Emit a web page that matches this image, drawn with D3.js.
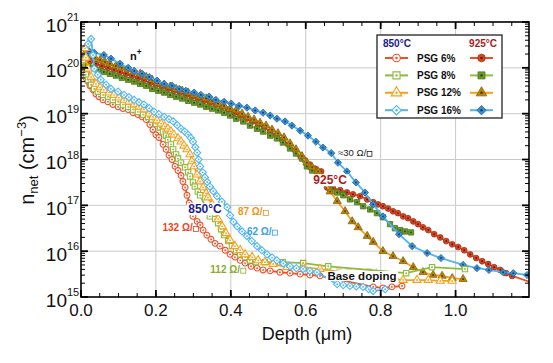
<!DOCTYPE html>
<html>
<head>
<meta charset="utf-8">
<script src="https://cdn.jsdelivr.net/npm/d3@7"></script>
<style>
body{margin:0;background:#fff}
svg{font-family:"Liberation Sans",Arial,sans-serif}
</style>
</head>
<body>
<div id="chart-area"></div>
<script>
// values: [depth (um), log10(n_net / cm^-3)]

// 850 C, open markers
var psg6_850 = [[0.005,20.13],[0.008,19.91],[0.013,19.78],[0.019,19.70],[0.024,19.61],[0.032,19.52],[0.040,19.43],[0.048,19.37],[0.059,19.30],[0.072,19.26],[0.085,19.20],[0.099,19.15],[0.112,19.11],[0.126,19.09],[0.139,19.02],[0.152,18.98],[0.163,18.93],[0.174,18.87],[0.184,18.76],[0.192,18.65],[0.200,18.54],[0.208,18.48],[0.219,18.33],[0.227,18.22],[0.235,18.09],[0.243,18.00],[0.251,17.85],[0.259,17.76],[0.267,17.65],[0.272,17.52],[0.278,17.39],[0.283,17.22],[0.289,17.05],[0.294,16.90],[0.299,16.76],[0.310,16.65],[0.318,16.57],[0.326,16.46],[0.336,16.35],[0.347,16.26],[0.358,16.17],[0.371,16.11],[0.385,16.02],[0.398,15.93],[0.411,15.87],[0.425,15.80],[0.438,15.74],[0.454,15.67],[0.470,15.63],[0.486,15.59],[0.505,15.57],[0.531,15.54],[0.558,15.52],[0.585,15.50],[0.611,15.48],[0.638,15.46],[0.780,15.22],[0.806,15.20],[0.830,15.22],[0.857,15.24]]
var psg8_850 = [[0.005,20.17],[0.013,19.85],[0.019,19.74],[0.027,19.63],[0.035,19.54],[0.045,19.48],[0.059,19.41],[0.072,19.37],[0.085,19.30],[0.099,19.26],[0.112,19.20],[0.126,19.15],[0.139,19.09],[0.152,19.04],[0.166,18.98],[0.179,18.93],[0.190,18.87],[0.200,18.78],[0.211,18.70],[0.219,18.61],[0.227,18.52],[0.232,18.43],[0.240,18.33],[0.246,18.22],[0.254,18.11],[0.259,18.02],[0.267,17.93],[0.278,17.83],[0.286,17.72],[0.291,17.63],[0.299,17.50],[0.304,17.41],[0.312,17.30],[0.318,17.22],[0.344,16.76],[0.358,16.70],[0.366,16.61],[0.374,16.48],[0.382,16.35],[0.393,16.22],[0.403,16.11],[0.414,16.02],[0.425,15.93],[0.438,15.87],[0.451,15.80],[0.467,15.76],[0.491,15.76],[0.539,15.76],[0.593,15.74],[0.660,15.67],[0.868,15.52],[0.937,15.65],[1.025,15.61]]
var psg12_850 = [[0.011,20.43],[0.013,20.22],[0.019,19.98],[0.027,19.80],[0.040,19.65],[0.051,19.57],[0.061,19.52],[0.075,19.46],[0.088,19.41],[0.101,19.35],[0.115,19.30],[0.128,19.26],[0.142,19.20],[0.155,19.15],[0.168,19.09],[0.182,19.00],[0.192,18.93],[0.203,18.85],[0.214,18.78],[0.224,18.72],[0.232,18.67],[0.240,18.61],[0.248,18.54],[0.259,18.46],[0.267,18.39],[0.275,18.30],[0.283,18.22],[0.291,18.11],[0.296,17.96],[0.302,17.85],[0.310,17.67],[0.318,17.52],[0.326,17.39],[0.334,17.26],[0.339,17.17],[0.350,17.02],[0.358,16.85],[0.366,16.70],[0.377,16.54],[0.387,16.39],[0.398,16.24],[0.411,16.11],[0.425,16.02],[0.438,15.93],[0.457,15.87],[0.473,15.80],[0.491,15.76],[0.513,15.72],[0.550,15.65],[0.593,15.65],[0.638,15.61],[0.860,15.37],[0.897,15.37],[0.927,15.37],[0.959,15.35],[0.991,15.35]]
var psg16_850 = [[0.019,20.52],[0.027,20.63],[0.032,20.28],[0.035,19.98],[0.045,19.85],[0.053,19.74],[0.067,19.63],[0.080,19.54],[0.099,19.48],[0.115,19.41],[0.128,19.36],[0.142,19.30],[0.155,19.25],[0.168,19.20],[0.182,19.12],[0.195,19.04],[0.208,18.99],[0.222,18.93],[0.235,18.88],[0.246,18.83],[0.257,18.75],[0.267,18.67],[0.277,18.61],[0.286,18.54],[0.293,18.47],[0.299,18.39],[0.305,18.27],[0.310,18.15],[0.314,18.00],[0.318,17.85],[0.325,17.72],[0.331,17.61],[0.337,17.51],[0.344,17.41],[0.353,17.31],[0.363,17.20],[0.376,17.08],[0.390,16.96],[0.398,16.78],[0.407,16.64],[0.417,16.54],[0.430,16.43],[0.443,16.33],[0.456,16.22],[0.470,16.11],[0.483,16.02],[0.497,15.93],[0.510,15.86],[0.523,15.80],[0.540,15.73],[0.558,15.67],[0.575,15.63],[0.593,15.61],[0.611,15.57],[0.630,15.54],[0.684,15.28],[0.700,15.26],[0.718,15.24],[0.735,15.23],[0.753,15.22],[0.768,15.17],[0.780,15.13],[0.812,15.17]]

// 925 C, filled markers
var psg6_925 = [[0.008,20.22],[0.024,20.15],[0.040,20.09],[0.056,20.04],[0.072,20.00],[0.088,19.96],[0.104,19.91],[0.120,19.87],[0.136,19.83],[0.152,19.78],[0.168,19.74],[0.184,19.67],[0.200,19.63],[0.216,19.59],[0.232,19.54],[0.248,19.50],[0.264,19.46],[0.280,19.41],[0.296,19.37],[0.312,19.33],[0.328,19.28],[0.344,19.24],[0.360,19.20],[0.377,19.15],[0.393,19.09],[0.409,19.02],[0.425,18.96],[0.441,18.89],[0.457,18.83],[0.473,18.76],[0.489,18.70],[0.505,18.61],[0.521,18.52],[0.537,18.43],[0.553,18.33],[0.569,18.22],[0.585,18.09],[0.598,17.98],[0.611,17.89],[0.625,17.80],[0.641,17.74],[0.657,17.39],[0.673,17.37],[0.692,17.33],[0.710,17.28],[0.726,17.24],[0.745,17.20],[0.764,17.13],[0.780,17.07],[0.793,17.02],[0.806,16.98],[0.820,16.93],[0.833,16.87],[0.846,16.83],[0.860,16.76],[0.873,16.72],[0.887,16.65],[0.900,16.59],[0.913,16.52],[0.927,16.46],[0.943,16.37],[0.959,16.30],[0.975,16.22],[0.991,16.15],[1.007,16.09],[1.023,16.02],[1.039,15.93],[1.055,15.85],[1.071,15.78],[1.087,15.72],[1.103,15.65],[1.119,15.59],[1.135,15.52],[1.151,15.46],[1.205,15.31]]
var psg8_925 = [[0.008,20.09],[0.019,20.04],[0.032,20.00],[0.045,19.96],[0.061,19.91],[0.077,19.87],[0.093,19.83],[0.109,19.78],[0.126,19.74],[0.142,19.70],[0.158,19.65],[0.174,19.61],[0.190,19.54],[0.206,19.50],[0.222,19.46],[0.238,19.41],[0.254,19.37],[0.270,19.33],[0.286,19.28],[0.302,19.24],[0.318,19.20],[0.334,19.15],[0.350,19.11],[0.366,19.07],[0.382,19.02],[0.398,18.96],[0.414,18.89],[0.433,18.83],[0.451,18.74],[0.470,18.67],[0.486,18.61],[0.505,18.52],[0.523,18.46],[0.539,18.37],[0.558,18.24],[0.574,18.13],[0.590,18.02],[0.603,17.85],[0.617,17.76],[0.665,17.35],[0.684,17.28],[0.700,17.22],[0.718,17.13],[0.737,17.07],[0.753,16.98],[0.772,16.91],[0.790,16.83],[0.806,16.74],[0.825,16.59],[0.838,16.50],[0.852,16.46],[0.865,16.43],[0.881,16.41]]
var psg12_925 = [[0.013,20.35],[0.024,20.28],[0.037,20.22],[0.051,20.17],[0.064,20.13],[0.077,20.09],[0.093,20.04],[0.109,20.00],[0.126,19.96],[0.142,19.91],[0.158,19.87],[0.174,19.80],[0.190,19.74],[0.206,19.67],[0.222,19.63],[0.238,19.59],[0.254,19.54],[0.270,19.50],[0.286,19.46],[0.302,19.41],[0.318,19.37],[0.334,19.33],[0.350,19.28],[0.366,19.22],[0.382,19.17],[0.398,19.11],[0.414,19.07],[0.430,19.00],[0.446,18.93],[0.462,18.87],[0.478,18.80],[0.494,18.74],[0.510,18.65],[0.526,18.57],[0.542,18.48],[0.558,18.35],[0.574,18.22],[0.590,18.07],[0.603,17.93],[0.617,17.83],[0.633,17.74],[0.665,17.30],[0.684,17.09],[0.705,16.87],[0.724,16.65],[0.740,16.52],[0.764,16.33],[0.780,16.20],[0.806,16.00],[0.833,15.89],[0.860,15.78],[0.887,15.65],[0.913,15.54],[0.940,15.48],[0.964,15.46],[0.991,15.41],[1.020,15.39]]
var psg16_925 = [[0.012,20.28],[0.022,20.36],[0.035,20.33],[0.061,20.28],[0.080,20.20],[0.104,20.09],[0.126,20.00],[0.142,19.93],[0.163,19.87],[0.182,19.80],[0.203,19.72],[0.222,19.65],[0.243,19.61],[0.262,19.54],[0.280,19.50],[0.302,19.46],[0.320,19.41],[0.342,19.37],[0.360,19.30],[0.382,19.26],[0.401,19.22],[0.422,19.17],[0.443,19.13],[0.465,19.07],[0.486,19.02],[0.505,18.96],[0.523,18.89],[0.545,18.83],[0.563,18.74],[0.585,18.63],[0.606,18.52],[0.627,18.39],[0.646,18.26],[0.668,18.14],[0.686,17.93],[0.710,17.74],[0.734,17.50],[0.758,17.28],[0.780,17.02],[0.806,16.76],[0.849,16.37],[0.884,16.11],[0.924,15.96],[0.961,15.85],[1.020,15.70],[1.057,15.63],[1.089,15.59],[1.127,15.54],[1.154,15.52],[1.191,15.48]]

var pctLabels = ['PSG 6%', 'PSG 8%', 'PSG 12%', 'PSG 16%']
var xTicks = [0, 0.2, 0.4, 0.6, 0.8, 1.0]
var yDecades = [15, 16, 17, 18, 19, 20, 21]

var margin = {left:81, right:24, top:22, bottom:66}
var width = 553 - margin.left - margin.right
var height = 363 - margin.top - margin.bottom

var svg = d3.select('#chart-area').append('svg')
	.attr('width', 553).attr('height', 363)

var g = svg.append('g')
	.attr('transform', 'translate(' + margin.left + ',' + margin.top + ')')

var x = d3.scaleLinear().domain([0, 1.196]).range([0, width])
var y = d3.scaleLog().domain([1e15, 1e21]).range([height, 0])

svg.append('defs').append('clipPath').attr('id', 'clip')
	.append('rect').attr('width', width).attr('height', height)

// grid
g.selectAll('.gx').data(xTicks.slice(1)).enter().append('line')
	.attr('x1', d => x(d)).attr('x2', d => x(d)).attr('y1', 0).attr('y2', height)
	.attr('stroke', '#c9c9c9').attr('stroke-width', 1)
g.selectAll('.gy').data(yDecades.slice(1, -1)).enter().append('line')
	.attr('x1', 0).attr('x2', width).attr('y1', d => y(Math.pow(10, d))).attr('y2', d => y(Math.pow(10, d)))
	.attr('stroke', '#c9c9c9').attr('stroke-width', 1)

// base doping level
g.append('line')
	.attr('x1', x(0.68)).attr('x2', x(0.79))
	.attr('y1', y(Math.pow(10, 15.61))).attr('y2', y(Math.pow(10, 15.61)))
	.attr('stroke', '#d8cfae').attr('stroke-width', 1.5).attr('stroke-dasharray', '6,4')

var series = [
	{data:psg6_925, shape:'circle', line:'#f04e23', fill:'#d6461f', stroke:'#a8331a', dot:'#5a1808'},
	{data:psg8_925, shape:'square', line:'#8dc03c', fill:'#6b9a2c', stroke:'#4e751e', dot:'#2c4410'},
	{data:psg12_925, shape:'triangle', line:'#f5a11c', fill:'#b8860f', stroke:'#8a6308', dot:'#4a3404'},
	{data:psg16_925, shape:'diamond', line:'#4db6f3', fill:'#3b8fd2', stroke:'#2369a8', dot:'#123c66'},
	{data:psg6_850, shape:'circle', line:'#f04e23', open:true},
	{data:psg8_850, shape:'square', line:'#8dbb3c', open:true},
	{data:psg12_850, shape:'triangle', line:'#f5a11c', open:true},
	{data:psg16_850, shape:'diamond', line:'#4db6f3', open:true}
]

function symbolPath(shape, s) {
	if (shape == 'circle') return d3.symbol(d3.symbolCircle, Math.PI * s * s)()
	if (shape == 'square') return d3.symbol(d3.symbolSquare, Math.pow(1.85 * s, 2))()
	if (shape == 'triangle') return d3.symbol(d3.symbolTriangle, 3.4 * s * s)()
	return d3.symbol(d3.symbolSquare, Math.pow(1.75 * s, 2))()
}

function drawMarker(sel, sr, s) {
	sel.append('path')
		.attr('d', symbolPath(sr.shape, s))
		.attr('transform', sr.shape == 'diamond' ? 'rotate(45)' : null)
		.attr('fill', sr.open ? '#fff' : sr.fill)
		.attr('stroke', sr.open ? sr.line : sr.stroke)
		.attr('stroke-width', sr.open ? 1.1 : 0.8)
	sel.append('circle').attr('r', s * 0.32)
		.attr('fill', sr.open ? sr.line : sr.dot)
}

var plot = g.append('g').attr('clip-path', 'url(#clip)')
var line = d3.line().x(d => x(d[0])).y(d => y(Math.pow(10, d[1])))

series.forEach(function(sr){
	plot.append('path').datum(sr.data)
		.attr('d', line).attr('fill', 'none')
		.attr('stroke', sr.line).attr('stroke-width', 1.8)
	plot.selectAll(null).data(sr.data).enter().append('g')
		.attr('transform', d => 'translate(' + x(d[0]) + ',' + y(Math.pow(10, d[1])) + ')')
		.each(function(){ drawMarker(d3.select(this), sr, 2.9) })
})

// annotations
var notes = [
	{t:'n', sup:'+', x:0.131, v:20.17, size:11, color:'#111', bold:true, anchor:'start'},
	{t:'850°C', x:0.331, v:16.83, size:12, color:'#1b1b8e', bold:true, bg:true},
	{t:'132 Ω/', box:true, x:0.258, v:16.43, size:10, color:'#ec4320', bold:true},
	{t:'87 Ω/', box:true, x:0.452, v:16.78, size:10, color:'#f2951a', bold:true},
	{t:'62 Ω/', box:true, x:0.476, v:16.35, size:10, color:'#3a9fe6', bold:true},
	{t:'112 Ω/', box:true, x:0.385, v:15.52, size:10, color:'#8aab2e', bold:true},
	{t:'925°C', x:0.665, v:17.46, size:12, color:'#a81c1c', bold:true, bg:true},
	{t:'≈30 Ω/', box:true, x:0.724, v:18.07, size:9.5, color:'#222', bold:false},
	{t:'Base doping', x:0.750, v:15.37, size:11.5, color:'#111', bold:true, bg:true}
]

notes.forEach(function(n){
	var ng = g.append('g')
	var txt = ng.append('text')
		.attr('x', x(n.x)).attr('y', y(Math.pow(10, n.v)))
		.attr('text-anchor', n.anchor || 'middle')
		.attr('font-size', n.size + 'px')
		.attr('font-weight', n.bold ? 'bold' : 'normal')
		.attr('fill', n.color)
	txt.append('tspan').text(n.t)
	if (n.sup) txt.append('tspan').attr('font-size', (n.size * 0.75) + 'px').attr('dy', -5).text(n.sup)
	var b = txt.node().getBBox()
	if (n.box) {
		// small square of the ohm-per-square unit
		var s = n.size * 0.5
		ng.append('rect')
			.attr('x', b.x + b.width + 0.5).attr('y', y(Math.pow(10, n.v)) - s)
			.attr('width', s).attr('height', s)
			.attr('fill', 'none').attr('stroke', n.color).attr('stroke-width', 0.8)
	}
	if (n.bg) {
		ng.insert('rect', 'text')
			.attr('x', b.x - 1.5).attr('y', b.y + 1).attr('width', b.width + 3).attr('height', b.height - 2)
			.attr('fill', '#fff')
	}
})

// axes: inward ticks on all four sides
var xMinor = d3.range(0, 1.196, 0.05)
var yMinor = []
for (var e = 15; e < 21; e++) for (var m = 2; m < 10; m++) yMinor.push(m * Math.pow(10, e))
var yMajor = yDecades.map(d => Math.pow(10, d))

var ax = g.append('g').attr('stroke', '#000')
function ticks(vals, len, w) {
	vals.forEach(function(v){
		ax.append('line').attr('x1', x(v)).attr('x2', x(v)).attr('y1', height).attr('y2', height - len).attr('stroke-width', w)
		ax.append('line').attr('x1', x(v)).attr('x2', x(v)).attr('y1', 0).attr('y2', len).attr('stroke-width', w)
	})
}
function yticks(vals, len, w) {
	vals.forEach(function(v){
		ax.append('line').attr('x1', 0).attr('x2', len).attr('y1', y(v)).attr('y2', y(v)).attr('stroke-width', w)
		ax.append('line').attr('x1', width).attr('x2', width - len).attr('y1', y(v)).attr('y2', y(v)).attr('stroke-width', w)
	})
}
ticks(xMinor, 4, 1)
ticks(xTicks, 7, 1.8)
yticks(yMinor, 4, 1)
yticks(yMajor, 7, 1.8)

g.append('rect').attr('width', width).attr('height', height)
	.attr('fill', 'none').attr('stroke', '#000').attr('stroke-width', 1.6)

g.selectAll('.xl').data(xTicks).enter().append('text')
	.attr('x', d => x(d)).attr('y', height + 19)
	.attr('text-anchor', 'middle').attr('font-size', '17px').attr('fill', '#111')
	.text(d => d3.format('.1f')(d))

yDecades.forEach(function(d){
	var yy = y(Math.pow(10, d))
	g.append('text').attr('x', -14).attr('y', yy + 9.5)
		.attr('text-anchor', 'end').attr('font-size', '19px').attr('fill', '#111').text('10')
	g.append('text').attr('x', -14).attr('y', yy - 1)
		.attr('font-size', '11px').attr('fill', '#111').text(d)
})

g.append('text').attr('x', width / 2 + 2).attr('y', height + 43)
	.attr('text-anchor', 'middle').attr('font-size', '18px').attr('fill', '#111')
	.text('Depth (μm)')

var yl = svg.append('text')
	.attr('transform', 'translate(34,160) rotate(-90)')
	.attr('text-anchor', 'middle').attr('font-size', '20px').attr('fill', '#111')
yl.append('tspan').text('n')
yl.append('tspan').attr('font-size', '13px').attr('dy', 4).text('net')
yl.append('tspan').attr('dy', -4).text(' (cm')
yl.append('tspan').attr('font-size', '13px').attr('dy', -8).text('−3')
yl.append('tspan').attr('dy', 8).text(')')

// legend
var lg = svg.append('g').attr('transform', 'translate(377,35)')
lg.append('rect').attr('width', 125).attr('height', 83)
	.attr('fill', '#fff').attr('stroke', '#222').attr('stroke-width', 1.3)
lg.append('text').attr('x', 6).attr('y', 12).attr('font-size', '10px').attr('font-weight', 'bold')
	.attr('fill', '#1b1b8e').text('850°C')
lg.append('text').attr('x', 120).attr('y', 12).attr('text-anchor', 'end').attr('font-size', '10px')
	.attr('font-weight', 'bold').attr('fill', '#a81c1c').text('925°C')

pctLabels.forEach(function(lab, i){
	var ry = 23 + i * 17.4
	var open = series[i + 4], filled = series[i]
	lg.append('line').attr('x1', 8).attr('x2', 31).attr('y1', ry).attr('y2', ry)
		.attr('stroke', open.line).attr('stroke-width', 2)
	drawMarker(lg.append('g').attr('transform', 'translate(19.5,' + ry + ')'), open, 3.8)
	lg.append('text').attr('x', 40).attr('y', ry + 3.6).attr('font-size', '10px')
		.attr('font-weight', 'bold').attr('fill', '#111').text(lab)
	lg.append('line').attr('x1', 93).attr('x2', 116).attr('y1', ry).attr('y2', ry)
		.attr('stroke', filled.line).attr('stroke-width', 2)
	drawMarker(lg.append('g').attr('transform', 'translate(104.5,' + ry + ')'), filled, 3.8)
})
</script>
</body>
</html>
